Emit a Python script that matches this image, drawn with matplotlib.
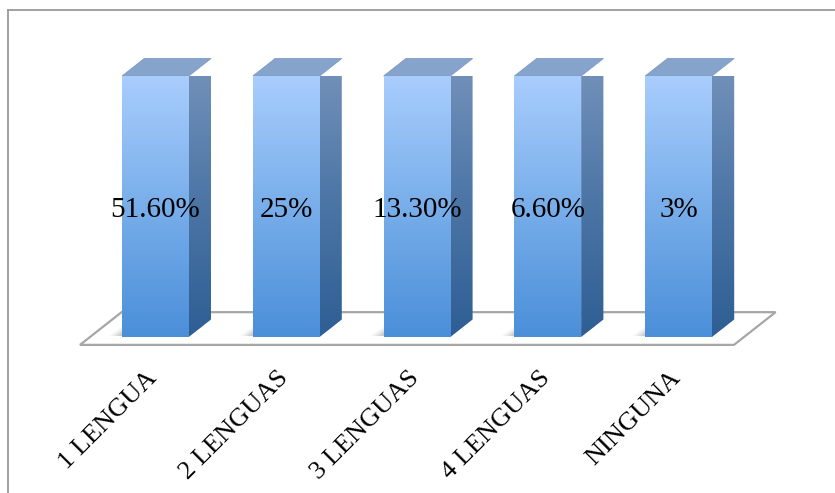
import numpy as np
import matplotlib
matplotlib.use("Agg")
import matplotlib.pyplot as plt
from matplotlib.colors import LinearSegmentedColormap
from matplotlib.patches import Polygon, Rectangle
from matplotlib.lines import Line2D

categorias = ["1 LENGUA", "2 LENGUAS", "3 LENGUAS", "4 LENGUAS", "NINGUNA"]
porcentajes = [51.6, 25, 13.3, 6.6, 3]

# columnas 100% apiladas: cada columna llena su propio total
alturas = [p / p * 100 for p in porcentajes]
etiquetas = [f"{p:.0f}%" if float(p).is_integer() else f"{p:.2f}%" for p in porcentajes]

plt.rcParams['font.family'] = ['Liberation Serif', 'DejaVu Serif']

fig = plt.figure(figsize=(8.35, 4.93), dpi=100)
ax = fig.add_axes([90 / 835, 156 / 493, 654 / 835, 261 / 493])

# profundidad 3D en unidades de datos
DX, DY = 0.17, 6.7
ancho = 0.51

frente = LinearSegmentedColormap.from_list("frente", ["#4b8fd9", "#78aeea", "#a9cdfd"])
lado = LinearSegmentedColormap.from_list("lado", ["#2e5e94", "#4d76a6", "#7593bb"])
grad = np.linspace(0, 1, 256).reshape(-1, 1)

# suelo
f0, f1 = -0.45, 1.42
piso = [(-0.5 + f0 * DX, f0 * DY), (4.5 + f0 * DX, f0 * DY),
        (4.5 + f1 * DX, f1 * DY), (-0.5 + f1 * DX, f1 * DY)]
ax.add_patch(Polygon(piso, closed=True, facecolor="white", edgecolor="#a6a6a6",
                     lw=1.6, clip_on=False, zorder=1))

for i, (h, txt) in enumerate(zip(alturas, etiquetas)):
    x0, x1 = i - ancho / 2, i + ancho / 2

    # sombra sobre el suelo
    for k, a in enumerate([0.05, 0.07, 0.09, 0.12]):
        e = 0.1 - k * 0.022
        sombra = [(x0 - e, 0.4), (x1, 0.4), (x1 + DX * 0.6, DY * 0.6),
                  (x0 - e + DX * 0.6, DY * 0.6)]
        ax.add_patch(Polygon(sombra, closed=True, facecolor="#555555", edgecolor="none",
                             alpha=a, clip_on=False, zorder=2))

    # cara lateral
    cara = Polygon([(x1, 0), (x1 + DX, DY), (x1 + DX, h + DY), (x1, h)], closed=True,
                   facecolor="none", edgecolor="none", transform=ax.transData)
    ax.add_patch(cara)
    im = ax.imshow(grad, cmap=lado, origin="lower", aspect="auto",
                   extent=(x1, x1 + DX, 0, h + DY), zorder=3, interpolation="bilinear")
    im.set_clip_path(cara)

    # cara superior
    ax.add_patch(Polygon([(x0, h), (x1, h), (x1 + DX, h + DY), (x0 + DX, h + DY)],
                         closed=True, facecolor="#86a3cc", edgecolor="#7d9bc4", lw=0.6,
                         clip_on=False, zorder=3))

    # cara frontal
    rect = Rectangle((x0, 0), ancho, h, facecolor="none", edgecolor="none")
    ax.add_patch(rect)
    im = ax.imshow(grad, cmap=frente, origin="lower", aspect="auto",
                   extent=(x0, x1, 0, h), zorder=4, interpolation="bilinear")
    im.set_clip_path(rect)

    ax.text(i, h * 0.487, txt, ha="center", va="center", fontsize=21,
            color="black", zorder=6)

    ax.text(i - 0.07, -11.5, categorias[i], ha="right", va="top", rotation=45,
            rotation_mode="anchor", fontsize=19, color="black", clip_on=False)

ax.set_xlim(-0.5, 4.5)
ax.set_ylim(0, 100)
ax.axis("off")

# marco del grafico
borde = "#9a9a9a"
fig.add_artist(Line2D([8 / 835, 8 / 835], [0, 1 - 10 / 493], transform=fig.transFigure,
                      color=borde, lw=1.3))
fig.add_artist(Line2D([8 / 835, 1], [1 - 10 / 493, 1 - 10 / 493], transform=fig.transFigure,
                      color=borde, lw=1.3))

fig.savefig("out.png", dpi=100)
